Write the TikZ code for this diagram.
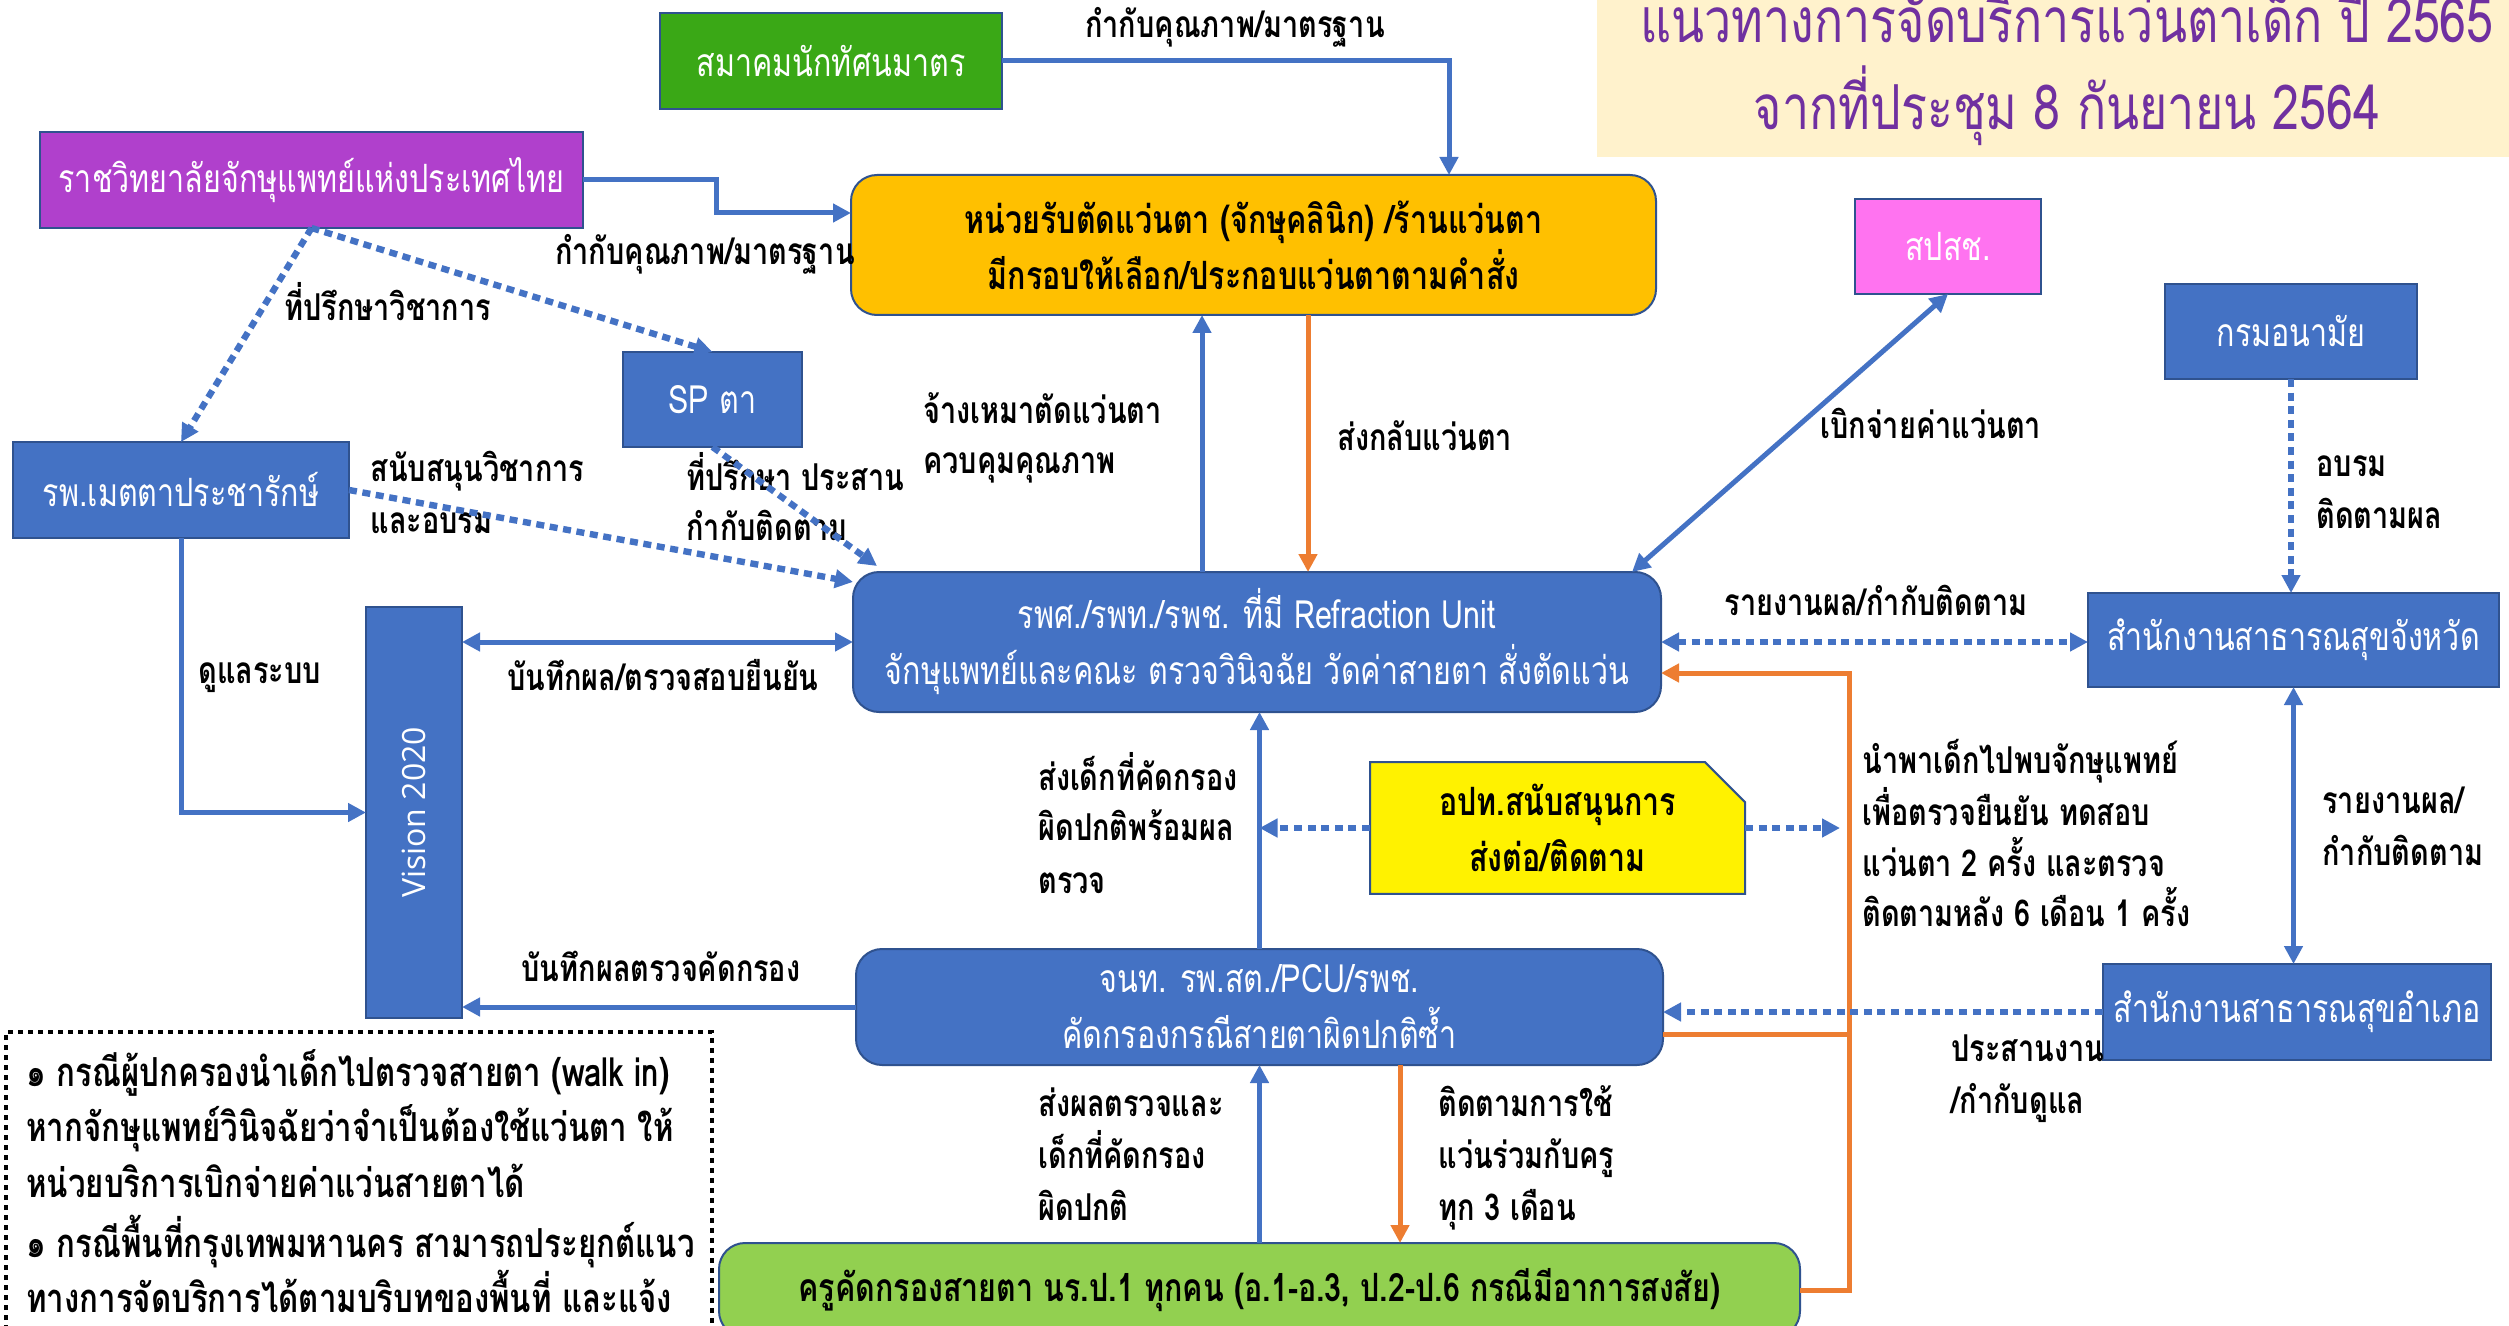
\documentclass[tikz,border=0pt]{standalone}
\usepackage{fontspec}
\setmainfont[Script=Thai,FakeStretch=0.78]{Loma}
\newfontfamily\visfont{Open Sans}
\usetikzlibrary{arrows.meta,shapes.misc}
\definecolor{bfill}{HTML}{4472C4}
\definecolor{bline}{HTML}{2F528F}
\definecolor{org}{HTML}{ED7D31}
\definecolor{grnA}{HTML}{3AA816}
\definecolor{purp}{HTML}{B040CC}
\definecolor{pink}{HTML}{FF73F0}
\definecolor{kgrn}{HTML}{92D050}
\definecolor{cream}{HTML}{FFF2CC}
\definecolor{ttl}{HTML}{7030A0}
\definecolor{unit}{HTML}{FFC000}
\newcommand\fLbl{\bfseries\fontsize{18.5}{26}\selectfont}
\newcommand\fNote{\bfseries\fontsize{20}{28}\selectfont}
\newcommand\fBx{\fontsize{19.5}{28}\selectfont}
\newcommand\fTtl{\fontsize{31}{45}\selectfont}
\begin{document}
\begin{tikzpicture}[x=0.5pt,y=-0.5pt,
  box/.style={draw=bline,line width=1pt,fill=bfill,text=white,inner sep=0pt,outer sep=0pt,align=center,font=\fBx},
  lbl/.style={inner sep=0pt,anchor=west,font=\fLbl,text height=12pt,text depth=4pt},
  nlbl/.style={inner sep=0pt,anchor=west,font=\fNote,text height=13pt,text depth=4pt},
  clbl/.style={inner sep=0pt,font=\fLbl,text height=12pt,text depth=4pt},
  tipA/.tip={Triangle[length=9pt,width=9pt]},
  barrow/.style={draw=bfill,line width=2.5pt,-tipA},
  barrowd/.style={draw=bfill,line width=2.5pt,tipA-tipA},
  oarrow/.style={draw=org,line width=2.5pt,-tipA},
  oline/.style={draw=org,line width=2.5pt},
  dotarrow/.style={draw=bfill,line width=3.2pt,dash pattern=on 4pt off 2.8pt,-tipA},
  dotarrowd/.style={draw=bfill,line width=3.2pt,dash pattern=on 4pt off 2.8pt,tipA-tipA}]
\useasboundingbox (0,0) rectangle (2509,1326);
\clip (0,0) rectangle (2509,1326);
% title
\fill[cream] (1597,0) rectangle (2509,157);
\node[inner sep=0pt,text=ttl,font=\fTtl] (t1) at (2067,14) {แนวทางการจัดบริการแว่นตาเด็ก ปี 2565};
\node[inner sep=0pt,text=ttl,font=\fTtl] (t2) at (2067,106) {จากที่ประชุม 8 กันยายน 2564};
% boxes
\node[box,fill=grnA,minimum width=171pt,minimum height=48pt] (green) at (831,61) {สมาคมนักทัศนมาตร};
\node[box,fill=purp,minimum width=271.5pt,minimum height=48pt] (purple) at (311.5,180) {ราชวิทยาลัยจักษุแพทย์แห่งประเทศไทย};
\node[box,fill=unit,text=black,font=\bfseries\fBx,rounded corners=13pt,minimum width=402.5pt,minimum height=70pt] (yellow) at (1253.5,245) {หน่วยรับตัดแว่นตา (จักษุคลินิก) /ร้านแว่นตา\\มีกรอบให้เลือก/ประกอบแว่นตาตามคำสั่ง};
\node[box,minimum width=89.5pt,minimum height=47.5pt] (sp) at (712.5,399.5) {SP ตา};
\node[box,minimum width=168pt,minimum height=48pt] (metta) at (181,490) {รพ.เมตตาประชารักษ์};
\node[box,rounded corners=13pt,minimum width=404pt,minimum height=70pt] (rwsat) at (1257,642) {รพศ./รพท./รพช. ที่มี Refraction Unit\\จักษุแพทย์และคณะ ตรวจวินิจฉัย วัดค่าสายตา สั่งตัดแว่น};
\node[box,fill=pink,minimum width=93pt,minimum height=47.5pt] (spsch) at (1948,246.5) {สปสช.};
\node[box,minimum width=126pt,minimum height=47.5pt] (anamai) at (2291,331.5) {กรมอนามัย};
\node[box,minimum width=205.5pt,minimum height=47pt] (ssj) at (2293.5,640) {สำนักงานสาธารณสุขจังหวัด};
\node[box,minimum width=194pt,minimum height=48pt] (sso) at (2297,1012) {สำนักงานสาธารณสุขอำเภอ};
\node[box,fill=yellow,text=black,font=\bfseries\fBx,shape=chamfered rectangle,chamfered rectangle corners=north east,chamfered rectangle xsep=9pt,chamfered rectangle ysep=11pt,minimum width=187.5pt,minimum height=64pt] (opt) at (1557.5,828) {อปท.สนับสนุนการ\\ส่งต่อ/ติดตาม};
\node[box,minimum width=48pt,minimum height=205.5pt] (vision) at (414,812.5) {};
\node[rotate=90,text=white,inner sep=0pt,font=\visfont\fontsize{16}{18}\selectfont] (vtext) at (vision.center) {Vision 2020};
\node[box,rounded corners=13pt,minimum width=403.5pt,minimum height=58pt] (jnt) at (1259.5,1007) {จนท. รพ.สต./PCU/รพช.\\คัดกรองกรณีสายตาผิดปกติซ้ำ};
\node[box,fill=kgrn,text=black,font=\bfseries\fBx,rounded corners=13pt,minimum width=540.5pt,minimum height=47pt] (kru) at (1259.5,1290) {ครูคัดกรองสายตา นร.ป.1 ทุกคน (อ.1-อ.3, ป.2-ป.6 กรณีมีอาการสงสัย)};
% notes
\draw[black,line width=2pt,dash pattern=on 2.5pt off 2.5pt] (6,1360) -- (6,1032) -- (712,1032) -- (712,1360);
\node[nlbl] (n1) at (26,1077) {๑ กรณีผู้ปกครองนำเด็กไปตรวจสายตา (walk in)};
\node[nlbl] (n2) at (26,1132) {หากจักษุแพทย์วินิจฉัยว่าจำเป็นต้องใช้แว่นตา ให้};
\node[nlbl] (n3) at (26,1188) {หน่วยบริการเบิกจ่ายค่าแว่นสายตาได้};
\node[nlbl] (n4) at (26,1248) {๑ กรณีพื้นที่กรุงเทพมหานคร สามารถประยุกต์แนว};
\node[nlbl] (n5) at (26,1303) {ทางการจัดบริการได้ตามบริบทของพื้นที่ และแจ้ง};
% labels
\node[clbl] (l1) at (1235,30) {กำกับคุณภาพ/มาตรฐาน};
\node[clbl] (l2) at (705,257) {กำกับคุณภาพ/มาตรฐาน};
\node[lbl] (l3) at (284,313) {ที่ปรึกษาวิชาการ};
\node[lbl] (l4a) at (370,473) {สนับสนุนวิชาการ};
\node[lbl] (l4b) at (370,525) {และอบรม};
\node[lbl] (l5a) at (686,482) {ที่ปรึกษา ประสาน};
\node[lbl] (l5b) at (686,532) {กำกับติดตาม};
\node[lbl] (l6a) at (923,415) {จ้างเหมาตัดแว่นตา};
\node[lbl] (l6b) at (923,465) {ควบคุมคุณภาพ};
\node[lbl] (l7) at (1337,442) {ส่งกลับแว่นตา};
\node[lbl] (l8) at (1820,430) {เบิกจ่ายค่าแว่นตา};
\node[lbl] (l9a) at (2316,468) {อบรม};
\node[lbl] (l9b) at (2316,520) {ติดตามผล};
\node[clbl] (l10) at (1876,607) {รายงานผล/กำกับติดตาม};
\node[clbl] (l11) at (663,682) {บันทึกผล/ตรวจสอบยืนยัน};
\node[lbl] (l12) at (198,675) {ดูแลระบบ};
\node[lbl] (l13a) at (1038,782) {ส่งเด็กที่คัดกรอง};
\node[lbl] (l13b) at (1038,832) {ผิดปกติพร้อมผล};
\node[lbl] (l13c) at (1038,885) {ตรวจ};
\node[lbl] (l14a) at (1862,765) {นำพาเด็กไปพบจักษุแพทย์};
\node[lbl] (l14b) at (1862,817) {เพื่อตรวจยืนยัน ทดสอบ};
\node[lbl] (l14c) at (1862,868) {แว่นตา 2 ครั้ง และตรวจ};
\node[lbl] (l14d) at (1862,918) {ติดตามหลัง 6 เดือน 1 ครั้ง};
\node[lbl] (l15a) at (2322,805) {รายงานผล/};
\node[lbl] (l15b) at (2322,857) {กำกับติดตาม};
\node[clbl] (l16) at (661,973) {บันทึกผลตรวจคัดกรอง};
\node[lbl] (l17a) at (1951,1053) {ประสานงาน};
\node[lbl] (l17b) at (1951,1105) {/กำกับดูแล};
\node[lbl] (l18a) at (1038,1108) {ส่งผลตรวจและ};
\node[lbl] (l18b) at (1038,1160) {เด็กที่คัดกรอง};
\node[lbl] (l18c) at (1038,1212) {ผิดปกติ};
\node[lbl] (l19a) at (1438,1108) {ติดตามการใช้};
\node[lbl] (l19b) at (1438,1160) {แว่นร่วมกับครู};
\node[lbl] (l19c) at (1438,1212) {ทุก 3 เดือน};
% helper coordinates
\coordinate (xA) at (1449,0);
\coordinate (kA) at (716,213);
\coordinate (xB) at (1202,0);
\coordinate (xC) at (1308,0);
\coordinate (oT) at (1849,673);
\coordinate (xD) at (1849,0);
\coordinate (xE) at (1840,0);
\coordinate (xF) at (1400,0);
\coordinate (jE) at ([yshift=-13.5pt]jnt.east);
% connectors
\draw[barrow] (green.east) -| (xA |- yellow.north);
\draw[barrow] (purple.east) -| (kA) -- (kA -| yellow.west);
\draw[dotarrow] (purple.south) -- (sp.north);
\draw[dotarrow] (purple.south) -- (metta.north);
\draw[dotarrow] (metta.east) -- ([yshift=-5pt]rwsat.north west);
\draw[dotarrow] (sp.south) -- ([xshift=12pt,yshift=3pt]rwsat.north west);
\draw[barrow] (xB |- rwsat.north) -- (xB |- yellow.south);
\draw[oarrow] (xC |- yellow.south) -- (xC |- rwsat.north);
\draw[barrowd] (spsch.south) -- ([xshift=-14.5pt]rwsat.north east);
\draw[dotarrow] (anamai.south) -- (anamai.south |- ssj.north);
\draw[dotarrowd] (rwsat.east) -- (rwsat.east -| ssj.west);
\draw[oarrow] (kru.east) -| (oT) -- (oT -| rwsat.east);
\draw[oline] (jE) -- (jE -| xD);
\draw[barrowd] (ssj.south) -- (ssj.south |- sso.north);
\draw[dotarrow] (sso.west) -- (sso.west -| jnt.east);
\draw[dotarrow] (opt.west) -- (opt.west -| jnt.north);
\draw[dotarrow] (opt.east) -- (opt.east -| xE);
\draw[barrow] (jnt.north) -- (jnt.north |- rwsat.south);
\draw[barrow] (jnt.west) -- (jnt.west -| vision.east);
\draw[barrowd] (rwsat.west) -- (rwsat.west -| vision.east);
\draw[barrow] (metta.south) |- (vision.west);
\draw[barrow] (kru.north) -- (kru.north |- jnt.south);
\draw[oarrow] (xF |- jnt.south) -- (xF |- kru.north);
\end{tikzpicture}
\end{document}
